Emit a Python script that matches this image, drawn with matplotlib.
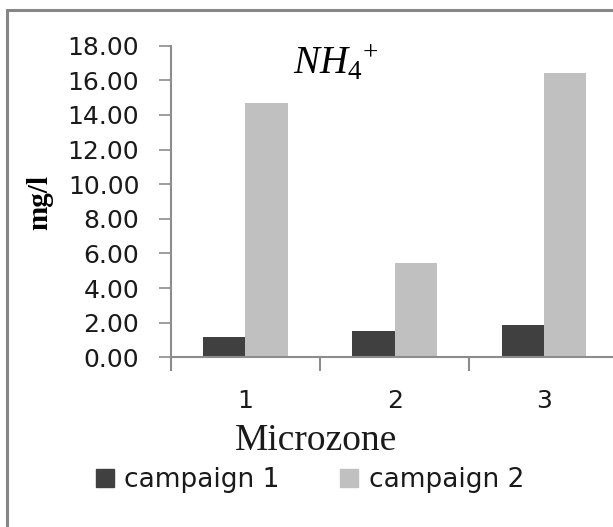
import matplotlib
matplotlib.use("Agg")
import matplotlib.pyplot as plt
from matplotlib.patches import Rectangle
import numpy as np

categories = ["1", "2", "3"]
campaign1 = [1.19, 1.53, 1.84]
campaign2 = [14.67, 5.42, 16.43]
series_names = ["campaign 1", "campaign 2"]
yticks = [0, 2, 4, 6, 8, 10, 12, 14, 16, 18]

plt.rcParams['mathtext.fontset'] = 'custom'
plt.rcParams['mathtext.it'] = 'Liberation Serif:italic'
plt.rcParams['mathtext.rm'] = 'Liberation Serif'

W, H = 613, 527
fig = plt.figure(figsize=(W / 100, H / 100), dpi=100)
fig.patch.set_facecolor('white')

# outer chart border (left and top visible)
fig.patches.append(Rectangle((6.5 / W, -0.2), 2.0, (1 - 10.5 / H) + 0.2,
                             transform=fig.transFigure, fill=False,
                             edgecolor='#878787', linewidth=2.2))

ax = fig.add_axes([170.7 / W, 1 - 357.3 / H, 3 * 149.3 / W, (357.3 - 45.7) / H])

x = np.arange(len(categories))
bw = 0.284
ax.bar(x - bw / 2, campaign1, width=bw, color='#404040', linewidth=0, label=series_names[0])
ax.bar(x + bw / 2, campaign2, width=bw, color='#c0c0c0', linewidth=0, label=series_names[1])

ax.set_xlim(-0.5, len(categories) - 0.5)
ax.set_ylim(0, 18)
ax.set_yticks(yticks)
ax.set_yticklabels([f"{v:.2f}" for v in yticks], fontsize=18, color='#1a1a1a')

# x: boundary ticks (major, unlabeled), category labels (minor)
ax.set_xticks(np.arange(len(categories) + 1) - 0.5)
ax.set_xticklabels([])
ax.set_xticks(x, minor=True)
ax.set_xticklabels(categories, minor=True, fontsize=18, color='#1a1a1a')
ax.tick_params(axis='x', which='major', length=10, width=1.5, color='#8c8c8c', direction='out')
ax.tick_params(axis='x', which='minor', length=0, pad=23)
ax.tick_params(axis='y', length=8.6, width=1.2, color='#8c8c8c', direction='out', pad=14)

for s in ['top', 'right']:
    ax.spines[s].set_visible(False)
for s in ['left', 'bottom']:
    ax.spines[s].set_color('#8c8c8c')
    ax.spines[s].set_linewidth(1.5)

fig.text(336 / W, 1 - 74 / H, r'$NH_{\mathit{4}}{}^{+}$', ha='center', va='baseline', fontsize=28)
fig.text(40 / W, 1 - 203 / H, 'mg/l', rotation=90, ha='center', va='center',
         fontsize=21, fontweight='bold', family='Liberation Serif')
fig.text(316 / W, 1 - 450 / H, 'Microzone', ha='center', va='baseline',
         fontsize=27, family='Liberation Serif', color='#1a1a1a')

handles = [Rectangle((0, 0), 1, 1, color='#404040'), Rectangle((0, 0), 1, 1, color='#c0c0c0')]
fig.legend(handles, series_names, loc='center', bbox_to_anchor=(310 / W, 1 - 480 / H),
           ncol=2, frameon=False, fontsize=19, handlelength=0.68, handleheight=0.68,
           handletextpad=0.4, columnspacing=2.3, borderpad=0, labelcolor='#1a1a1a')

fig.savefig('out.png', dpi=100)
